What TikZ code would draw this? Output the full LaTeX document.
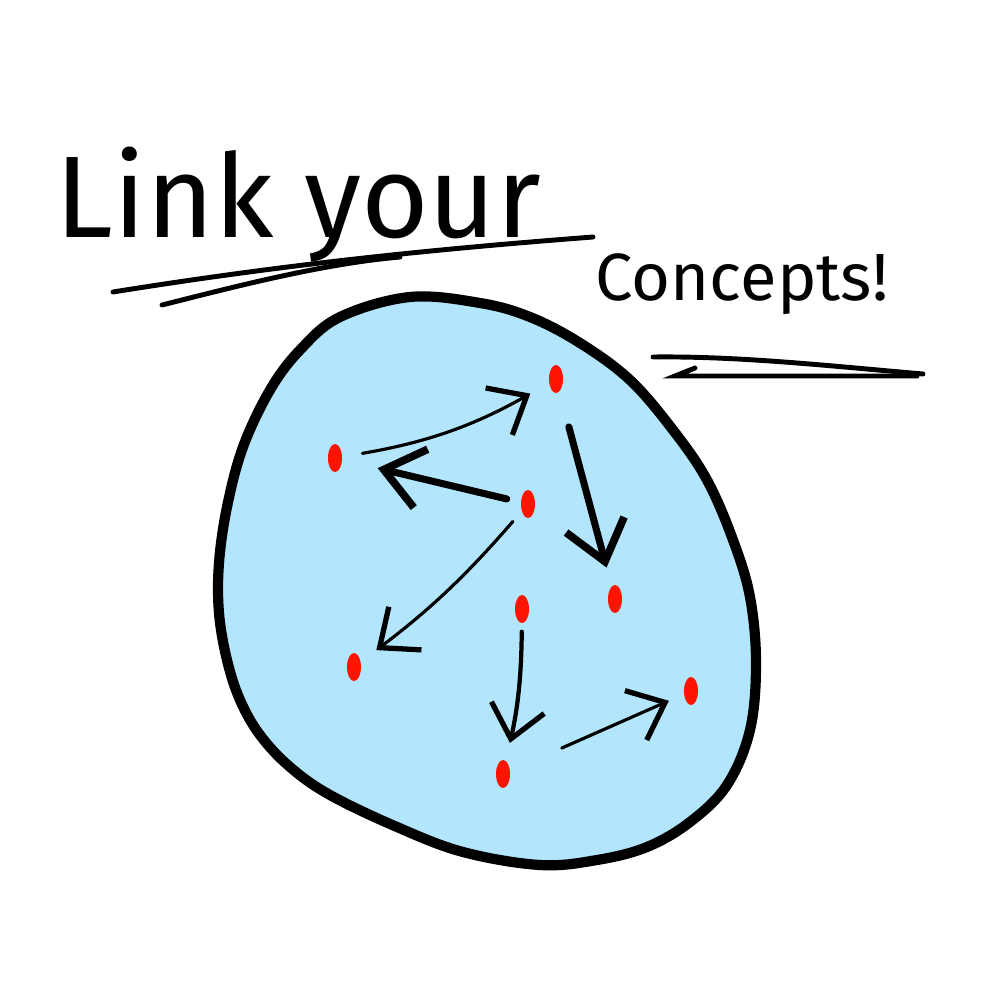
\documentclass[tikz,border=0pt]{standalone}
\usepackage{fontspec}
\setmainfont{Fira Sans}
\usepackage{tikz}
\usetikzlibrary{arrows.meta,shapes.geometric}
\definecolor{Sky}{HTML}{B3E5FC}
\definecolor{DotRed}{HTML}{FF1400}

\begin{document}
\begin{tikzpicture}[x=0.01cm,y=-0.01cm,
  dot/.style={ellipse,fill=DotRed,inner sep=0pt,minimum width=0.14cm,minimum height=0.28cm},
  ink/.style={line width=1.4pt,line cap=round},
  thinlink/.style={line width=0.9pt,line cap=round,-{Straight Barb[length=3.2mm,width=5.4mm,line width=1.5pt]}},
  boldlink/.style={line width=2pt,line cap=round,-{Straight Barb[length=3.8mm,width=6mm,line width=2.2pt]}}]
  \useasboundingbox (0,0) rectangle (982,982);
  % the blob
  \draw[line width=2.9pt,fill=Sky] plot[smooth cycle,tension=0.6] coordinates {
    (410,297) (480,303) (530,317) (580,343) (630,380) (673,430) (707,480) (733,540)
    (750,597) (756,663) (750,730) (727,785) (690,822) (647,847) (597,860) (540,865)
    (463,852) (397,827) (330,795) (290,767) (260,735) (240,700) (227,660) (219,613)
    (219,563) (227,507) (243,447) (270,390) (300,350) (340,317)};
  % heading
  \node[anchor=base west,inner sep=0pt,font=\fontsize{33}{36}\selectfont] (link) at (55,238) {Link your};
  \node[anchor=base west,inner sep=0pt,font=\fontsize{19}{22}\selectfont] (concepts) at (595,300) {Concepts!};
  \draw[ink] (113,292) .. controls (300,262) and (450,248) .. (593,237);
  \draw[ink] (162,305) .. controls (230,288) and (320,264) .. (400,257);
  \draw[ink] (653,357) .. controls (740,356) and (830,366) .. (923,374);
  \draw[ink] (695,368) -- (675,376) -- (917,376);
  % concept dots
  \foreach \n/\x/\y in {1/556/379,2/335/458,3/528/504,4/615/599,5/522/609,6/354/667,7/691/691,8/503/774}
    \node[dot] (d\n) at (\x,\y) {};
  % links between them
  \draw[thinlink,shorten <=2mm,shorten >=2.1mm] (d2) to[bend right=10] (d1);
  \draw[boldlink,shorten <=1.4mm,shorten >=3.6mm] (d3) to (d2);
  \draw[thinlink,shorten <=1.3mm,shorten >=1.9mm] (d3) to[bend left=6] (d6);
  \draw[boldlink,shorten <=3.6mm,shorten >=1.9mm] (d1) to (d4);
  \draw[thinlink,line width=1.2pt,shorten <=0.8mm,shorten >=1.8mm] (d5) to[bend left=6] (d8);
  \draw[thinlink,shorten <=5.6mm,shorten >=1.6mm] (d8) to (d7);
\end{tikzpicture}
\end{document}
